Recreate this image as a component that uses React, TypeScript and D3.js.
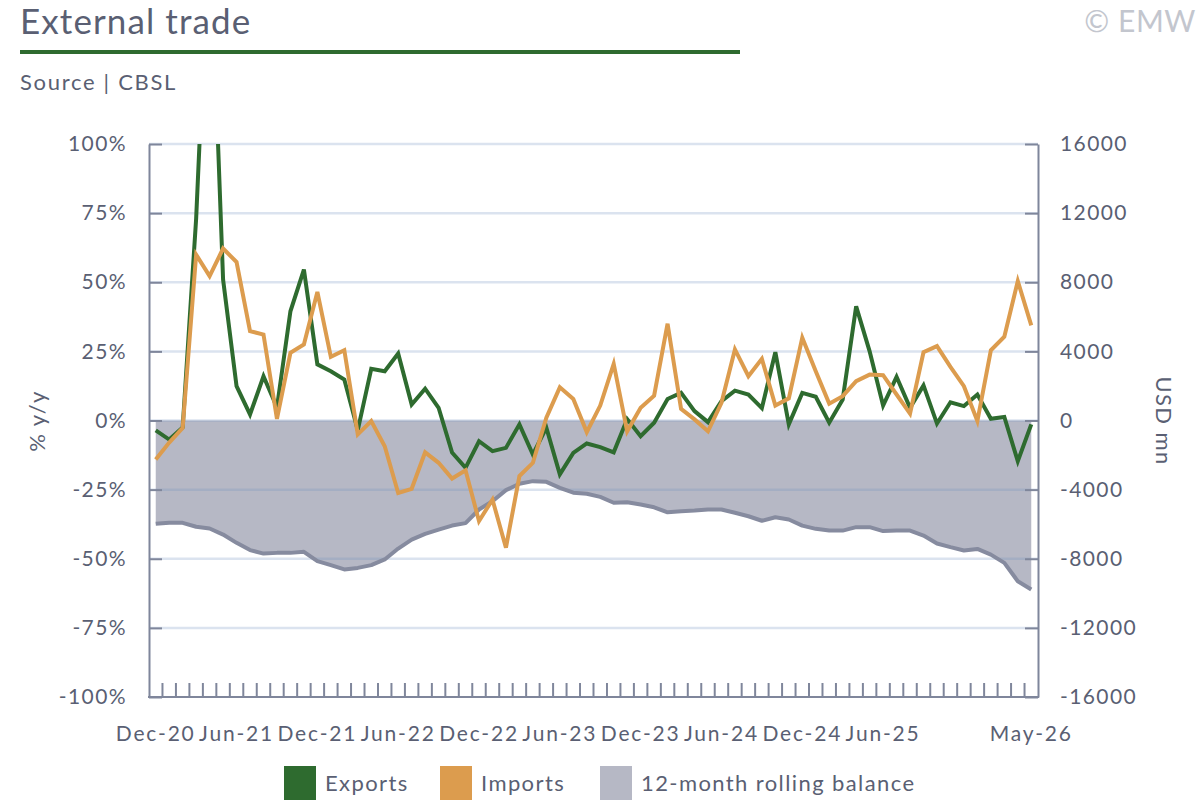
import { useRef, useEffect } from 'react';
import * as d3 from 'd3';

// monthly categories, Dec-20 .. May-26
const months = [
    'Dec-20',
    'Jan-21', 'Feb-21', 'Mar-21', 'Apr-21', 'May-21', 'Jun-21', 'Jul-21', 'Aug-21', 'Sep-21', 'Oct-21', 'Nov-21', 'Dec-21',
    'Jan-22', 'Feb-22', 'Mar-22', 'Apr-22', 'May-22', 'Jun-22', 'Jul-22', 'Aug-22', 'Sep-22', 'Oct-22', 'Nov-22', 'Dec-22',
    'Jan-23', 'Feb-23', 'Mar-23', 'Apr-23', 'May-23', 'Jun-23', 'Jul-23', 'Aug-23', 'Sep-23', 'Oct-23', 'Nov-23', 'Dec-23',
    'Jan-24', 'Feb-24', 'Mar-24', 'Apr-24', 'May-24', 'Jun-24', 'Jul-24', 'Aug-24', 'Sep-24', 'Oct-24', 'Nov-24', 'Dec-24',
    'Jan-25', 'Feb-25', 'Mar-25', 'Apr-25', 'May-25', 'Jun-25', 'Jul-25', 'Aug-25', 'Sep-25', 'Oct-25', 'Nov-25', 'Dec-25',
    'Jan-26', 'Feb-26', 'Mar-26', 'Apr-26', 'May-26',
];

const xLabels = ['Dec-20', 'Jun-21', 'Dec-21', 'Jun-22', 'Dec-22', 'Jun-23', 'Dec-23', 'Jun-24', 'Dec-24', 'Jun-25', 'May-26'];

// % y/y
const exportsYoY = [
    -3.6, -6.9, -2.5, 73, 182, 51, 12.4, 2.2, 16, 4.7, 39.5, 54.6, 20.3,
    17.8, 14.8, -3.5, 18.7, 17.8, 24.2, 5.8, 11.5, 4.6, -11.6, -17.1, -7.5,
    -11.1, -9.9, -1.4, -12.3, -2.6, -19.5, -11.7, -8.3, -9.6, -11.5, 0.5, -5.7,
    -0.8, 7.8, 10, 3.4, -0.6, 7, 10.8, 9.4, 4.5, 24.7, -1.4, 10,
    8.6, -0.8, 7.6, 41.3, 25, 5.4, 15.8, 4.6, 12.7, -1.1, 6.6, 5.2,
    9.4, 0.6, 1.3, -14.7, -1.4,
];

const importsYoY = [
    -14.1, -8, -2.7, 60, 52.2, 62.2, 57.3, 32.3, 31.1, 0.6, 24.5, 27.5, 46.5,
    23, 25.4, -5, -0.2, -9.3, -26.2, -24.7, -11.5, -15.3, -21, -18, -36.4,
    -28.6, -46, -20.1, -15.3, 1, 12, 7.8, -4.2, 5.4, 20.5, -3.9, 4.6,
    9, 35, 4.2, 0.4, -3.9, 6.4, 25.7, 16, 22.3, 5.4, 8, 29.9,
    17.8, 6.1, 8.8, 14.2, 16.6, 16.4, 9.4, 2.5, 24.7, 26.9, 19.4, 12.4,
    -0.2, 25.4, 30.3, 50.4, 34.4,
];

// USD mn
const rollingBalance = [
    -5980, -5920, -5920, -6150, -6250, -6600, -7080, -7500, -7700, -7660, -7660, -7600, -8140,
    -8370, -8620, -8530, -8370, -8040, -7410, -6890, -6560, -6310, -6080, -5940, -5150,
    -4670, -4030, -3660, -3510, -3550, -3900, -4180, -4240, -4420, -4760, -4730, -4860,
    -5020, -5310, -5250, -5210, -5150, -5150, -5340, -5540, -5800, -5600, -5730, -6080,
    -6270, -6370, -6370, -6170, -6170, -6400, -6370, -6370, -6660, -7120, -7330, -7520,
    -7430, -7760, -8240, -9300, -9780,
];

const leftTicks = [-100, -75, -50, -25, 0, 25, 50, 75, 100];
const rightTicks = [-16000, -12000, -8000, -4000, 0, 4000, 8000, 12000, 16000];

const legendItems = [
    { label: 'Exports', color: '#2e6b2f' },
    { label: 'Imports', color: '#dc9c4e' },
    { label: '12-month rolling balance', color: '#b6b8c5' },
];

const FONT = 'Lato, "Open Sans", sans-serif';
const TEXT = '#5a5f73';
const AXIS = '#7f869b';
const SPACING = '1.4px';

export default function App() {
    const svgRef = useRef<SVGSVGElement>(null);

    useEffect(() => {
        if (!svgRef.current) return;
        document.body.style.margin = '0';

        const width = 1200;
        const height = 800;
        const left = 149, right = 1038, top = 144, bottom = 697;

        const svg = d3.select(svgRef.current)
            .attr('width', width)
            .attr('height', height)
            .attr('viewBox', `0 0 ${width} ${height}`)
            .style('font-family', FONT);

        svg.selectAll('*').remove();

        const x = d3.scaleBand<string>().domain(months).range([left, right]);
        const cx = (i: number) => (x(months[i]) as number) + x.bandwidth() / 2;

        const yL = d3.scaleLinear().domain([-100, 100]).range([bottom, top]);
        const yR = d3.scaleLinear().domain([-16000, 16000]).range([bottom, top]);

        svg.append('defs')
            .append('clipPath')
            .attr('id', 'plotClip')
            .append('rect')
            .attr('x', left)
            .attr('y', top)
            .attr('width', right - left)
            .attr('height', bottom - top);

        // Header
        svg.append('text')
            .attr('x', 20)
            .attr('y', 34)
            .attr('fill', TEXT)
            .attr('font-size', '35px')
            .attr('letter-spacing', '1.1px')
            .text('External trade');

        svg.append('rect')
            .attr('x', 20)
            .attr('y', 50)
            .attr('width', 720)
            .attr('height', 4)
            .attr('fill', '#2e6b2f');

        svg.append('text')
            .attr('x', 20)
            .attr('y', 90)
            .attr('fill', TEXT)
            .attr('font-size', '22px')
            .attr('letter-spacing', '1.7px')
            .text('Source | CBSL');

        svg.append('text')
            .attr('x', 1196)
            .attr('y', 32)
            .attr('text-anchor', 'end')
            .attr('fill', '#c3c6ce')
            .attr('font-size', '30px')
            .attr('letter-spacing', '0.6px')
            .text('© EMW');

        // Balance area
        const idx = d3.range(months.length);
        const area = d3.area<number>()
            .x(i => cx(i))
            .y0(yR(0))
            .y1(i => yR(rollingBalance[i]));

        svg.append('path')
            .datum(idx)
            .attr('fill', '#b6b8c5')
            .attr('d', area);

        // Grid lines (drawn over the area, semi-transparent)
        svg.append('g')
            .selectAll('line')
            .data(leftTicks.filter(d => d > -100))
            .enter()
            .append('line')
            .attr('x1', left)
            .attr('x2', right)
            .attr('y1', d => yL(d))
            .attr('y2', d => yL(d))
            .attr('stroke', '#6f8fc0')
            .attr('stroke-opacity', 0.25)
            .attr('stroke-width', 2.5);

        const plot = svg.append('g').attr('clip-path', 'url(#plotClip)');

        const balanceLine = d3.line<number>()
            .x(i => cx(i))
            .y(i => yR(rollingBalance[i]));

        plot.append('path')
            .datum(idx)
            .attr('fill', 'none')
            .attr('stroke', '#868b9f')
            .attr('stroke-width', 4)
            .attr('stroke-linejoin', 'round')
            .attr('d', balanceLine);

        const series = [
            { values: exportsYoY, color: legendItems[0].color },
            { values: importsYoY, color: legendItems[1].color },
        ];

        series.forEach(s => {
            const line = d3.line<number>()
                .x(i => cx(i))
                .y(i => yL(s.values[i]));
            plot.append('path')
                .datum(idx)
                .attr('fill', 'none')
                .attr('stroke', s.color)
                .attr('stroke-width', 4)
                .attr('stroke-linejoin', 'miter')
                .attr('d', line);
        });

        // Left axis
        const gL = svg.append('g')
            .attr('transform', `translate(${left},0)`)
            .call(
                d3.axisLeft(yL)
                    .tickValues(leftTicks)
                    .tickSize(-13)
                    .tickSizeOuter(0)
                    .tickPadding(22)
                    .tickFormat(d => `${d}%`)
            );

        // Right axis
        const gR = svg.append('g')
            .attr('transform', `translate(${right},0)`)
            .call(
                d3.axisRight(yR)
                    .tickValues(rightTicks)
                    .tickSize(-13)
                    .tickSizeOuter(0)
                    .tickPadding(22)
                    .tickFormat(d => String(d))
            );

        [gL, gR].forEach(g => {
            g.select('.domain').attr('stroke', AXIS).attr('stroke-width', 2);
            g.selectAll('.tick line').attr('stroke', AXIS).attr('stroke-width', 2);
            g.selectAll('text')
                .attr('fill', TEXT)
                .attr('font-size', '21px')
                .attr('letter-spacing', SPACING)
                .attr('font-family', FONT);
        });

        // Bottom axis: ticks at month boundaries
        const gB = svg.append('g');
        gB.append('line')
            .attr('x1', left - 1)
            .attr('x2', right + 1)
            .attr('y1', bottom)
            .attr('y2', bottom)
            .attr('stroke', AXIS)
            .attr('stroke-width', 2);

        gB.selectAll('line.mtick')
            .data(months.slice(1))
            .enter()
            .append('line')
            .attr('class', 'mtick')
            .attr('x1', d => x(d) as number)
            .attr('x2', d => x(d) as number)
            .attr('y1', bottom)
            .attr('y2', bottom - 14)
            .attr('stroke', AXIS)
            .attr('stroke-width', 2);

        gB.selectAll('text')
            .data(xLabels)
            .enter()
            .append('text')
            .attr('x', d => (x(d) as number) + x.bandwidth() / 2)
            .attr('y', 741)
            .attr('text-anchor', 'middle')
            .attr('fill', TEXT)
            .attr('font-size', '21px')
            .attr('letter-spacing', '1.8px')
            .text(d => d);

        // Axis titles
        svg.append('text')
            .attr('transform', `translate(45,421) rotate(-90)`)
            .attr('text-anchor', 'middle')
            .attr('fill', TEXT)
            .attr('font-size', '22px')
            .attr('letter-spacing', SPACING)
            .text('% y/y');

        svg.append('text')
            .attr('transform', `translate(1156,421) rotate(90)`)
            .attr('text-anchor', 'middle')
            .attr('fill', TEXT)
            .attr('font-size', '22px')
            .attr('letter-spacing', SPACING)
            .text('USD mn');

        // Legend
        const legendX = [284, 440, 600];
        const lg = svg.append('g');
        legendItems.forEach((item, i) => {
            lg.append('rect')
                .attr('x', legendX[i])
                .attr('y', 766)
                .attr('width', 32)
                .attr('height', 34)
                .attr('fill', item.color);
            lg.append('text')
                .attr('x', legendX[i] + 41)
                .attr('y', 791)
                .attr('fill', TEXT)
                .attr('font-size', '22px')
                .attr('letter-spacing', SPACING)
                .text(item.label);
        });
    }, []);

    return <svg ref={svgRef} style={{ display: 'block' }} />;
}
